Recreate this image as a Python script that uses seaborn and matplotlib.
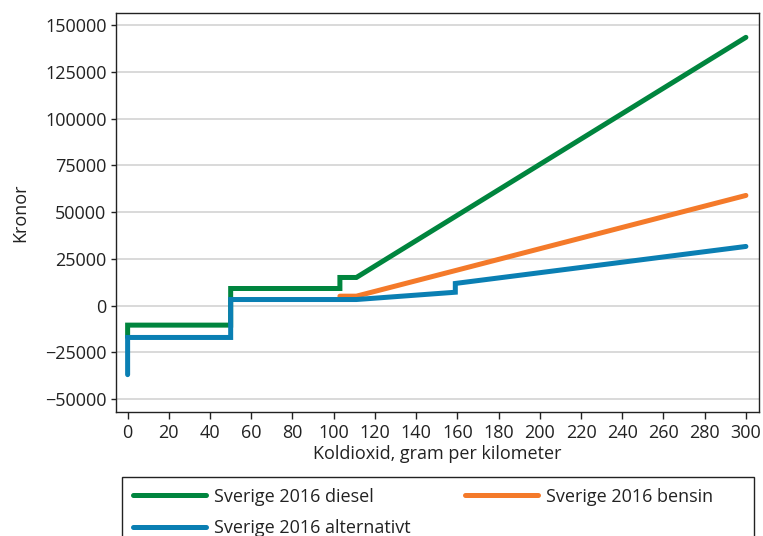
import pandas as pd
import matplotlib.pyplot as plt
import seaborn as sns
from matplotlib.patches import Rectangle

# Values (kronor per CO2 g/km)
diesel_x = [0, 0, 50, 50, 103, 103, 111, 300]
diesel_y = [-17000, -10500, -10500, 9100, 9100, 15000, 15000, 143500]

bensin_x = [103, 111, 300]
bensin_y = [5000, 5000, 58900]

alt_x = [0, 0, 50, 50, 111, 159, 159, 300]
alt_y = [-37000, -17100, -17100, 3200, 3200, 7100, 11800, 31600]

labels = ["Sverige 2016 diesel", "Sverige 2016 bensin", "Sverige 2016 alternativt"]
colors = ["#00853e", "#f47a2a", "#0a7fb3"]
x_ticks = list(range(0, 301, 20))
y_ticks = list(range(-50000, 150001, 25000))

rows = []
for lab, xs, ys in zip(labels, [diesel_x, bensin_x, alt_x], [diesel_y, bensin_y, alt_y]):
    for x, y in zip(xs, ys):
        rows.append({"serie": lab, "co2": x, "kronor": y})
df = pd.DataFrame(rows)

sns.set_style("white")
plt.rcParams["font.family"] = ["Open Sans", "DejaVu Sans"]

fig = plt.figure(figsize=(7.63, 5.36), dpi=100)
ax = fig.add_axes([0.1516, 0.232, 0.843, 0.744])

sns.lineplot(data=df, x="co2", y="kronor", hue="serie", hue_order=labels,
             palette=colors, estimator=None, sort=False, units="serie",
             linewidth=3.6, ax=ax, legend=False, zorder=3)
for ln in ax.get_lines():
    ln.set_solid_capstyle("round")
    ln.set_solid_joinstyle("miter")

ax.set_xlim(-5.8, 306.3)
ax.set_ylim(-56800, 156600)
ax.set_xticks(x_ticks)
ax.set_yticks(y_ticks)
ax.set_yticklabels([str(v).replace("-", "\u2212") for v in y_ticks])
ax.yaxis.grid(True, color="#d9d9d9", linewidth=1.4, zorder=0)
ax.xaxis.grid(False)
ax.tick_params(axis="both", direction="out", width=1, color="#222222",
               labelsize=13, labelcolor="#222222", left=True, bottom=True)
ax.tick_params(axis="x", length=5, pad=4)
ax.tick_params(axis="y", length=3.6, pad=3)
for s in ax.spines.values():
    s.set_color("#222222")
    s.set_linewidth(1)

ax.set_xlabel("Koldioxid, gram per kilometer", fontsize=13, color="#222222", labelpad=2)
ax.set_ylabel("Kronor", fontsize=13, color="#222222")
ax.yaxis.set_label_coords(-0.135, 0.5)

# legend below the plot, frame runs past the bottom edge
handles = [plt.Line2D([], [], color=c, linewidth=3.6) for c in colors]
order = [0, 2, 1]
leg = fig.legend([handles[i] for i in order], [labels[i] for i in order],
                 loc="upper left", bbox_to_anchor=(122 / 763, 1 - 477 / 536),
                 ncol=2, fontsize=13, frameon=False, handlelength=4.05,
                 handletextpad=0.45, columnspacing=3.0, borderpad=0.59,
                 labelspacing=0.73, borderaxespad=0)
for t in leg.get_texts():
    t.set_color("#222222")
fig.patches.append(Rectangle((122 / 763, -0.1), (754 - 122) / 763, 1 - 477 / 536 + 0.1,
                             transform=fig.transFigure, fill=False,
                             edgecolor="#222222", linewidth=1))

fig.savefig("out.png", dpi=100)
